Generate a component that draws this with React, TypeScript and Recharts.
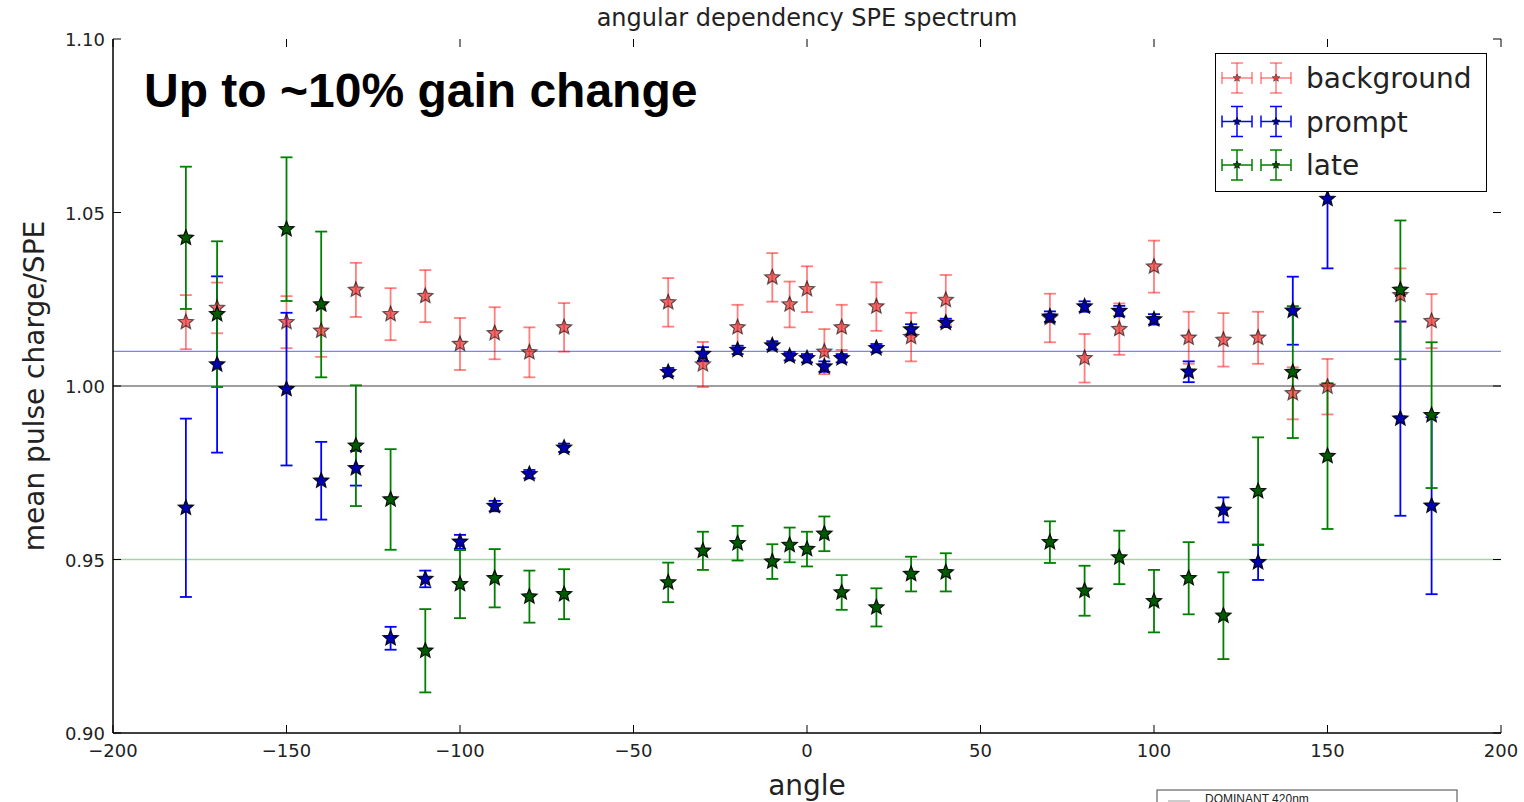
import React from 'react'
import { ScatterChart, Scatter, XAxis, YAxis, ErrorBar, ReferenceLine, Legend } from 'recharts'

// angles (deg) shared by all three series
const angles = [-179, -170, -150, -140, -130, -120, -110, -100, -90, -80, -70, -40, -30, -20, -10, -5, 0, 5, 10, 20, 30, 40, 70, 80, 90, 100, 110, 120, 130, 140, 150, 171, 180]

const backgroundVal = [1.0184, 1.0225, 1.0184, 1.0159, 1.0277, 1.0207, 1.0259, 1.0121, 1.0152, 1.0097, 1.0169, 1.0241, 1.0062, 1.0169, 1.0313, 1.0235, 1.0279, 1.0099, 1.0169, 1.0229, 1.0141, 1.0248, 1.0196, 1.008, 1.0164, 1.0344, 1.0139, 1.0133, 1.0139, 0.9979, 0.9998, 1.0262, 1.0187]
const backgroundErr = [0.0078, 0.0073, 0.0075, 0.0075, 0.0078, 0.0075, 0.0075, 0.0075, 0.0075, 0.0072, 0.007, 0.007, 0.0065, 0.0065, 0.007, 0.0066, 0.0066, 0.0065, 0.0065, 0.007, 0.007, 0.0072, 0.007, 0.007, 0.0074, 0.0075, 0.0075, 0.0077, 0.0075, 0.0075, 0.008, 0.0077, 0.0078]

const promptVal = [0.9649, 1.0062, 0.9991, 0.9727, 0.9763, 0.9273, 0.9444, 0.9551, 0.9654, 0.9746, 0.9822, 1.004, 1.0092, 1.0104, 1.0117, 1.0086, 1.008, 1.0056, 1.008, 1.0109, 1.0163, 1.0182, 1.02, 1.0229, 1.0216, 1.0192, 1.0041, 0.9643, 0.9492, 1.0217, 1.0539, 0.9906, 0.9655]
const promptErr = [0.0257, 0.0254, 0.022, 0.0112, 0.005, 0.0033, 0.0024, 0.002, 0.0015, 0.0012, 0.0012, 0.0012, 0.002, 0.0012, 0.0012, 0.0012, 0.0012, 0.0015, 0.0012, 0.0012, 0.0015, 0.0012, 0.0015, 0.0015, 0.0015, 0.0015, 0.003, 0.0036, 0.0051, 0.0098, 0.02, 0.028, 0.0255]

const lateVal = [1.0427, 1.0207, 1.0452, 1.0235, 0.9828, 0.9673, 0.9237, 0.9429, 0.9446, 0.9393, 0.94, 0.9434, 0.9525, 0.9547, 0.9494, 0.9542, 0.953, 0.9574, 0.9405, 0.9362, 0.9458, 0.9463, 0.955, 0.941, 0.9506, 0.938, 0.9446, 0.9338, 0.9697, 1.004, 0.9798, 1.0277, 0.9916]
const lateErr = [0.0205, 0.021, 0.0207, 0.021, 0.0174, 0.0145, 0.012, 0.0098, 0.0084, 0.0075, 0.0072, 0.0057, 0.0055, 0.005, 0.005, 0.005, 0.005, 0.005, 0.005, 0.0055, 0.005, 0.0055, 0.006, 0.0072, 0.0077, 0.009, 0.0104, 0.0125, 0.0155, 0.019, 0.021, 0.02, 0.021]

const xTicks = [-200, -150, -100, -50, 0, 50, 100, 150, 200]
const yTicks = [0.9, 0.95, 1.0, 1.05, 1.1]
const promptMean = 1.01
const unity = 1.0
const lateMean = 0.95

const PLOT_L = 113
const PLOT_R = 1501
const PLOT_T = 39
const PLOT_B = 733

const build = (vals: number[], errs: number[]) => angles.map((a, i) => ({ x: a, y: vals[i], err: errs[i] }))

const series = [
  { name: 'background', data: build(backgroundVal, backgroundErr), bar: '#ff0000', barOpacity: 0.5, fill: '#e02020', fillOpacity: 0.65, edgeOpacity: 0.6 },
  { name: 'prompt', data: build(promptVal, promptErr), bar: '#0000ff', barOpacity: 1, fill: '#0000b0', fillOpacity: 1, edgeOpacity: 0.9 },
  { name: 'late', data: build(lateVal, lateErr), bar: '#008000', barOpacity: 1, fill: '#005a00', fillOpacity: 1, edgeOpacity: 0.9 },
]

const starPoints = (cx: number, cy: number, ro: number, ri: number) => {
  const pts: string[] = []
  for (let k = 0; k < 10; k++) {
    const r = k % 2 === 0 ? ro : ri
    const ang = -Math.PI / 2 + (k * Math.PI) / 5
    pts.push(`${cx + r * Math.cos(ang)},${cy + r * Math.sin(ang)}`)
  }
  return pts.join(' ')
}

const makeStar = (fill: string, fillOpacity: number, edgeOpacity: number) => (props: any) => {
  const { cx, cy } = props
  if (cx == null || cy == null) return <g />
  return (
    <polygon
      points={starPoints(cx, cy, 8, 3.6)}
      fill={fill}
      fillOpacity={fillOpacity}
      stroke="#000"
      strokeOpacity={edgeOpacity}
      strokeWidth={1.2}
    />
  )
}

const fmtX = (v: number) => (v < 0 ? '\u2212' + Math.abs(v) : String(v))

const XTick = (props: any) => {
  const { x, payload } = props
  return (
    <g>
      <line x1={x} x2={x} y1={PLOT_B} y2={PLOT_B - 8} stroke="#000" strokeWidth={1} />
      <line x1={x} x2={x} y1={PLOT_T} y2={PLOT_T + 8} stroke="#000" strokeWidth={1} />
      <text x={x} y={PLOT_B + 24} textAnchor="middle" fontSize={18} fontFamily="DejaVu Sans" fill="#222">
        {fmtX(payload.value)}
      </text>
    </g>
  )
}

const YTick = (props: any) => {
  const { y, payload } = props
  return (
    <g>
      <line x1={PLOT_L} x2={PLOT_L + 8} y1={y} y2={y} stroke="#000" strokeWidth={1} />
      <line x1={PLOT_R} x2={PLOT_R - 8} y1={y} y2={y} stroke="#000" strokeWidth={1} />
      <text x={PLOT_L - 8} y={y + 7} textAnchor="end" fontSize={18} fontFamily="DejaVu Sans" fill="#222">
        {payload.value.toFixed(2)}
      </text>
    </g>
  )
}

const LegendMarker = ({ cx, cy, s }: any) => (
  <g stroke={s.bar} strokeOpacity={s.barOpacity} strokeWidth={1.5}>
    <line x1={cx - 15} x2={cx + 15} y1={cy} y2={cy} />
    <line x1={cx - 15} x2={cx - 15} y1={cy - 6} y2={cy + 6} />
    <line x1={cx + 15} x2={cx + 15} y1={cy - 6} y2={cy + 6} />
    <line x1={cx} x2={cx} y1={cy - 15} y2={cy + 15} />
    <line x1={cx - 6} x2={cx + 6} y1={cy - 15} y2={cy - 15} />
    <line x1={cx - 6} x2={cx + 6} y1={cy + 15} y2={cy + 15} />
    <polygon points={starPoints(cx, cy, 4, 1.8)} fill={s.fill} fillOpacity={s.fillOpacity} stroke="#000" strokeOpacity={s.edgeOpacity} strokeWidth={0.8} />
  </g>
)

const LegendBox = () => (
  <div style={{ width: 272, height: 139, border: '1.5px solid #000', background: '#fff', boxSizing: 'border-box' }}>
    <svg width={269} height={136}>
      {series.map((s, i) => {
        const cy = 24 + i * 43.5
        return (
          <g key={s.name}>
            <LegendMarker cx={21} cy={cy} s={s} />
            <LegendMarker cx={60} cy={cy} s={s} />
            <text x={90} y={cy + 10} fontSize={28} fontFamily="DejaVu Sans" fill="#222">{s.name}</text>
          </g>
        )
      })}
    </svg>
  </div>
)

export default function App() {
  return (
    <div style={{ position: 'absolute', left: 0, top: 0, width: 1524, height: 802, overflow: 'hidden', background: '#fff' }}>
      <ScatterChart width={1524} height={802} margin={{ top: 39, right: 23, bottom: 39, left: 0 }}>
        <XAxis
          type="number"
          dataKey="x"
          domain={[-200, 200]}
          ticks={xTicks}
          height={30}
          tickLine={false}
          tick={<XTick />}
          axisLine={{ stroke: '#000', strokeWidth: 1.5 }}
          allowDataOverflow
        />
        <XAxis xAxisId="top" orientation="top" type="number" domain={[-200, 200]} height={0} tick={false} tickLine={false} axisLine={{ stroke: '#000', strokeWidth: 1.5 }} />
        <YAxis
          type="number"
          dataKey="y"
          domain={[0.9, 1.1]}
          ticks={yTicks}
          width={113}
          tickLine={false}
          tick={<YTick />}
          axisLine={{ stroke: '#000', strokeWidth: 1.5 }}
          allowDataOverflow
        />
        <YAxis yAxisId="right" orientation="right" type="number" domain={[0.9, 1.1]} width={0} tick={false} tickLine={false} axisLine={{ stroke: '#000', strokeWidth: 1.5 }} />

        <ReferenceLine y={promptMean} stroke="#0000ff" strokeOpacity={0.5} strokeWidth={1.2} />
        <ReferenceLine y={unity} stroke="#000" strokeOpacity={0.5} strokeWidth={1.5} />
        <ReferenceLine y={lateMean} stroke="#008000" strokeOpacity={0.35} strokeWidth={1.5} />

        <Legend
          layout="horizontal"
          verticalAlign="middle"
          align="center"
          content={<LegendBox />}
          wrapperStyle={{ position: 'absolute', left: 1215, top: 53, width: 272, height: 139 }}
        />

        {series.map((s) => (
          <Scatter
            key={s.name}
            name={s.name}
            data={s.data}
            shape={makeStar(s.fill, s.fillOpacity, s.edgeOpacity)}
            isAnimationActive={false}
          >
            <ErrorBar dataKey="err" direction="y" width={6} stroke={s.bar} strokeOpacity={s.barOpacity} strokeWidth={1.8} isAnimationActive={false} />
          </Scatter>
        ))}
      </ScatterChart>

      <svg width={1524} height={802} style={{ position: 'absolute', left: 0, top: 0, pointerEvents: 'none' }}>
        <text x={807} y={26} textAnchor="middle" fontSize={24} fontFamily="DejaVu Sans" fill="#222">angular dependency SPE spectrum</text>
        <text x={807} y={795} textAnchor="middle" fontSize={28} fontFamily="DejaVu Sans" fill="#222">angle</text>
        <text transform="translate(44,386) rotate(-90)" textAnchor="middle" fontSize={28} fontFamily="DejaVu Sans" fill="#222">mean pulse charge/SPE</text>
        <text x={144} y={107} fontSize={48} fontWeight="bold" fontFamily="Liberation Sans, Arial" fill="#000">Up to ~10% gain change</text>
        <rect x={1157} y={790} width={300} height={30} fill="#fff" stroke="#444" strokeWidth={1} />
        <line x1={1168} x2={1190} y1={801} y2={801} stroke="#999" strokeWidth={1} />
        <text x={1205} y={803} fontSize={12} fontFamily="Liberation Sans, Arial" fill="#222">DOMINANT 420nm</text>
      </svg>
    </div>
  )
}
